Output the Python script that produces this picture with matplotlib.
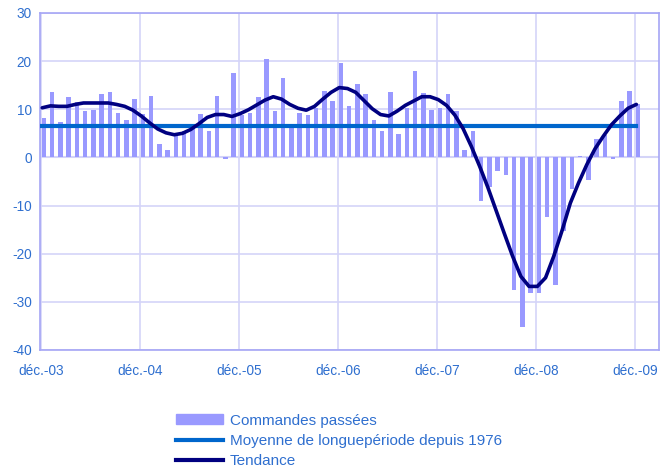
import matplotlib.pyplot as plt
import matplotlib.patches as mpatches
import matplotlib.lines as mlines
import numpy as np

# monthly values, déc.-03 .. déc.-09
commandes = [8.1, 13.5, 7.3, 12.5, 11.5, 9.6, 9.8, 13.1, 13.5, 9.2, 7.7, 12.1,
             9.1, 12.7, 2.8, 1.5, 5.0, 5.5, 6.3, 9.1, 5.4, 12.7, -0.3, 17.6,
             8.7, 9.2, 12.6, 20.4, 9.6, 16.5, 6.3, 9.2, 8.7, 10.3, 13.8, 11.7,
             19.6, 10.6, 15.2, 13.1, 7.7, 5.4, 13.5, 4.8, 10.3, 17.9, 13.3, 9.8,
             10.3, 13.1, 9.6, 1.5, 5.4, -9.1, -6.2, -2.8, -3.7, -27.6, -35.3, -28.1,
             -28.1, -12.4, -26.6, -15.2, -6.6, 0.3, -4.6, 3.9, 4.6, -0.3, 11.7, 13.7,
             11.0]
tendance = [10.3, 10.7, 10.6, 10.6, 11.0, 11.3, 11.3, 11.3, 11.3, 11.0, 10.6, 9.8,
            8.6, 7.2, 5.9, 5.1, 4.7, 5.0, 5.8, 7.0, 8.3, 8.9, 8.9, 8.5,
            9.1, 9.9, 10.9, 11.9, 12.6, 12.1, 11.0, 10.2, 9.8, 10.6, 12.1, 13.5,
            14.5, 14.3, 13.5, 11.8, 10.1, 8.9, 8.6, 9.6, 10.8, 11.7, 12.6, 12.6,
            12.0, 10.8, 8.8, 6.0, 2.3, -1.8, -6.2, -11.0, -15.8, -20.5, -24.7, -26.8,
            -26.8, -25.0, -20.5, -15.2, -9.5, -5.3, -1.5, 1.8, 4.4, 6.8, 8.6, 10.2,
            11.0]
moyenne = 6.5
tick_labels = ["déc.-03", "déc.-04", "déc.-05", "déc.-06", "déc.-07", "déc.-08", "déc.-09"]

plt.rcParams['font.family'] = ['Liberation Sans', 'DejaVu Sans']
plt.rcParams['axes.unicode_minus'] = False
text_col = '#2F6FCF'
grid_col = '#D4D4F8'
frame_col = '#A6A6F5'

fig = plt.figure(figsize=(6.61, 4.71), dpi=100)
ax = fig.add_axes([0.0605, 0.257, 0.9365, 0.7155])

months = np.arange(len(commandes))
ax.bar(months + 0.35, commandes, width=0.55, color='#9999FF', zorder=2)
ax.plot(months + 0.15, [moyenne] * len(months), color='#0066CC', lw=3, zorder=3)
ax.plot(months + 0.15, tendance, color='#000080', lw=2.6, zorder=4,
        solid_capstyle='round', solid_joinstyle='round')

ax.set_xlim(-0.12, 74.9)
ax.set_ylim(-40, 30)
ax.set_yticks(np.arange(-40, 31, 10))
ax.set_xticks(np.arange(0, 73, 12))
ax.set_xticklabels(tick_labels)

ax.grid(True, color=grid_col, lw=1.2, zorder=0)
ax.axhline(0, color=grid_col, lw=1.5, zorder=1)
for s in ax.spines.values():
    s.set_color(frame_col)
    s.set_linewidth(1.2)
ax.tick_params(length=0, labelsize=9.8, labelcolor=text_col)
ax.tick_params(axis='y', pad=6)
ax.tick_params(axis='x', pad=10)

handles = [mpatches.Patch(color='#9999FF'),
           mlines.Line2D([], [], color='#0066CC', lw=3),
           mlines.Line2D([], [], color='#000080', lw=3)]
labels = ["Commandes passées", "Moyenne de longuepériode depuis 1976", "Tendance"]
leg = fig.legend(handles, labels, loc='upper left', bbox_to_anchor=(0.254, 0.138),
                 frameon=False, fontsize=11, handlelength=3.1, handleheight=0.65,
                 handletextpad=0.45, labelspacing=0.42, borderpad=0)
for t in leg.get_texts():
    t.set_color(text_col)

fig.savefig('out.png', dpi=100)
